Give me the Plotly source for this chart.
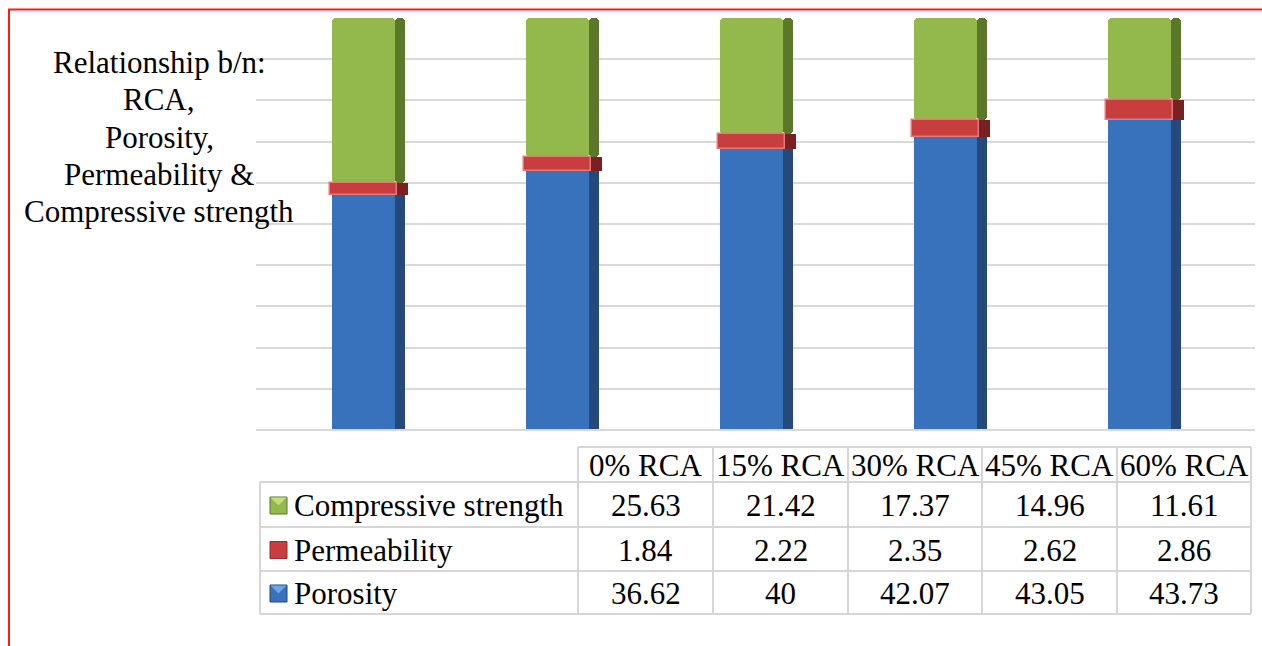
import plotly.graph_objects as go

# ---- data ----
categories = ["0% RCA", "15% RCA", "30% RCA", "45% RCA", "60% RCA"]
compressive_strength = [25.63, 21.42, 17.37, 14.96, 11.61]
permeability = [1.84, 2.22, 2.35, 2.62, 2.86]
porosity = [36.62, 40, 42.07, 43.05, 43.73]
series_names = ["Compressive strength", "Permeability", "Porosity"]
title_lines = ["Relationship b/n:", "RCA,", "Porosity,", "Permeability &", "Compressive strength"]

W, H = 1262, 646
FONT = "Liberation Serif, Times New Roman, serif"
FSIZE = 31


def fx(px):
    return px / W


def fy(py):
    return 1 - py / H


# 100% stacked shares
totals = [a + b + c for a, b, c in zip(porosity, permeability, compressive_strength)]
pct_por = [v / t * 100 for v, t in zip(porosity, totals)]
pct_perm = [v / t * 100 for v, t in zip(permeability, totals)]
pct_comp = [v / t * 100 for v, t in zip(compressive_strength, totals)]
base_perm = pct_por
base_comp = [a + b for a, b in zip(pct_por, pct_perm)]

UNIT = 194.0  # pixels per category
front_w = 63 / UNIT
side_w = 10 / UNIT
red_w = 67 / UNIT
red_side_w = 11 / UNIT

fig = go.Figure()


def add_block(vals, base, front_col, side_col, fw, sw, line_col=None, radius=0):
    # darker right-hand face for the 3D look
    fig.add_trace(go.Bar(
        x=categories, y=vals, base=base, width=sw, offset=fw / 2 - 0.002,
        marker=dict(color=side_col, line=dict(width=0), cornerradius=radius),
        hoverinfo="skip", showlegend=False))
    fig.add_trace(go.Bar(
        x=categories, y=vals, base=base, width=fw, offset=-fw / 2,
        marker=dict(color=front_col, cornerradius=radius,
                    line=dict(width=1.5 if line_col else 0, color=line_col or front_col)),
        showlegend=False))


add_block(pct_por, [0] * 5, "#3872bd", "#24497a", front_w, side_w)
add_block(pct_comp, base_comp, "#93b84c", "#5a772a", front_w, side_w, radius=4)
add_block(pct_perm, base_perm, "#c83e3e", "#7a1f22", red_w, red_side_w, line_col="#e27a7a")

x0_px, x1_px = 256, 1255
first_center = 363.5
xr0 = -(first_center - x0_px) / UNIT
xr1 = 4 + (x1_px - (first_center + 4 * UNIT)) / UNIT

fig.update_layout(
    width=W, height=H,
    margin=dict(l=0, r=0, t=0, b=0),
    paper_bgcolor="white", plot_bgcolor="white",
    barmode="overlay",
    bargap=0,
    showlegend=False,
    font=dict(family=FONT),
    xaxis=dict(domain=[fx(x0_px), fx(x1_px)], range=[xr0, xr1],
               showticklabels=False, showgrid=False, zeroline=False, showline=False,
               fixedrange=True),
    yaxis=dict(domain=[fy(430), fy(18)], range=[0, 100], dtick=10,
               showticklabels=False, showgrid=True, gridcolor="#d9d9d9", gridwidth=2,
               zeroline=False, showline=False, fixedrange=True),
)

shapes = []
annotations = []

# red frame (top and left)
shapes.append(dict(type="line", xref="paper", yref="paper",
                   x0=fx(8), x1=1, y0=fy(9.5), y1=fy(9.5),
                   line=dict(color="#ff1a1a", width=2)))
shapes.append(dict(type="line", xref="paper", yref="paper",
                   x0=fx(9), x1=fx(9), y0=fy(9), y1=0,
                   line=dict(color="#ff1a1a", width=2)))

# bottom axis line of the plot area
shapes.append(dict(type="line", xref="paper", yref="paper",
                   x0=fx(x0_px), x1=fx(x1_px), y0=fy(430), y1=fy(430),
                   line=dict(color="#d9d9d9", width=2)))

# title block
for i, line in enumerate(title_lines):
    base_y = 72.5 + i * 37.25
    annotations.append(dict(text=line, xref="paper", yref="paper",
                            x=fx(159), y=fy(base_y - 10), xanchor="center", yanchor="middle",
                            showarrow=False, font=dict(family=FONT, size=FSIZE, color="black")))

# ---- data table ----
col_edges = [578, 713, 848, 982, 1117, 1251]
row_edges = [447, 482, 527, 571, 614]
leg_left = 260
grid = dict(color="#d6d6d6", width=2)

# header row borders (only over the category columns)
shapes.append(dict(type="line", xref="paper", yref="paper",
                   x0=fx(col_edges[0]), x1=fx(col_edges[-1]), y0=fy(row_edges[0]), y1=fy(row_edges[0]),
                   line=grid))
for r in row_edges[1:]:
    shapes.append(dict(type="line", xref="paper", yref="paper",
                       x0=fx(leg_left), x1=fx(col_edges[-1]), y0=fy(r), y1=fy(r), line=grid))
for c in col_edges:
    shapes.append(dict(type="line", xref="paper", yref="paper",
                       x0=fx(c), x1=fx(c), y0=fy(row_edges[0]), y1=fy(row_edges[-1]), line=grid))
shapes.append(dict(type="line", xref="paper", yref="paper",
                   x0=fx(leg_left), x1=fx(leg_left), y0=fy(row_edges[1]), y1=fy(row_edges[-1]), line=grid))

tfont = dict(family=FONT, size=FSIZE, color="black")

# header labels
for j, cat in enumerate(categories):
    cx = (col_edges[j] + col_edges[j + 1]) / 2
    cy = (row_edges[0] + row_edges[1]) / 2
    annotations.append(dict(text=cat, xref="paper", yref="paper", x=fx(cx), y=fy(cy + 1),
                            xanchor="center", yanchor="middle", showarrow=False, font=tfont))

rows = [
    (series_names[0], compressive_strength, "#93b84c", "#5a772a", "#c4de7c"),
    (series_names[1], permeability, "#c83e3e", "#a02a2a", "#d85a5a"),
    (series_names[2], porosity, "#3872bd", "#24497a", "#6aa6e6"),
]
for i, (name, vals, col, dark, light) in enumerate(rows):
    top, bot = row_edges[i + 1], row_edges[i + 2]
    cy = (top + bot) / 2
    # legend key
    shapes.append(dict(type="rect", xref="paper", yref="paper",
                       x0=fx(270), x1=fx(287), y0=fy(cy - 7.5), y1=fy(cy + 9.5),
                       fillcolor=col, line=dict(color=dark, width=1)))
    if name != series_names[1]:
        shapes.append(dict(type="path", xref="paper", yref="paper",
                           path=f"M {fx(270.5)},{fy(cy - 7)} L {fx(286.5)},{fy(cy - 7)} L {fx(278.5)},{fy(cy + 1)} Z",
                           fillcolor=light, line=dict(width=0)))
    annotations.append(dict(text=name, xref="paper", yref="paper", x=fx(292), y=fy(cy + 1),
                            xanchor="left", yanchor="middle", showarrow=False, font=tfont))
    for j, v in enumerate(vals):
        cx = (col_edges[j] + col_edges[j + 1]) / 2
        annotations.append(dict(text=f"{v:g}", xref="paper", yref="paper", x=fx(cx), y=fy(cy + 1),
                                xanchor="center", yanchor="middle", showarrow=False, font=tfont))

fig.update_layout(shapes=shapes, annotations=annotations)
fig.write_html("out.html")
